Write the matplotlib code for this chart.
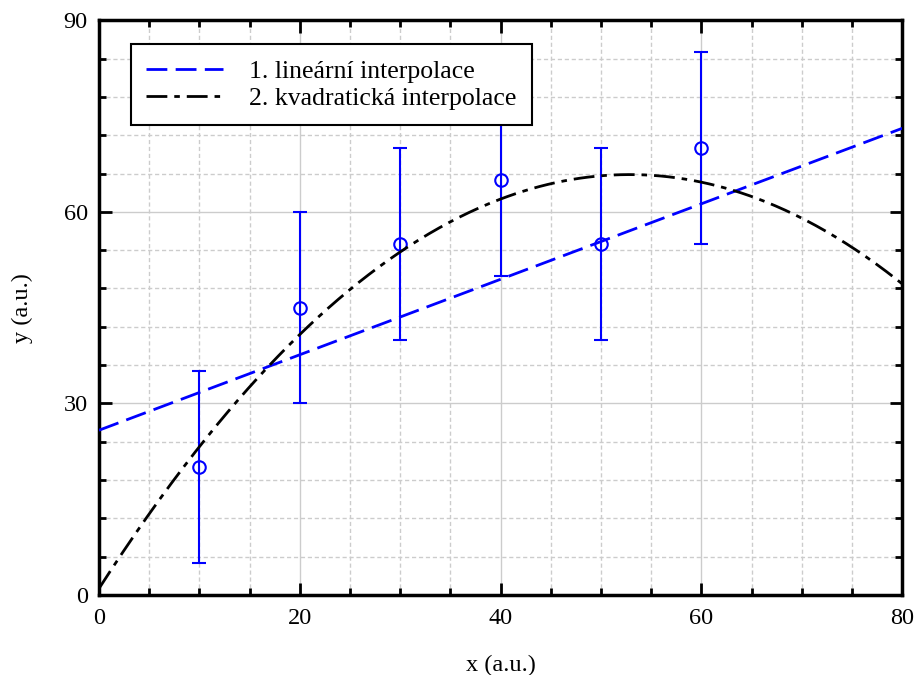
import numpy as np
import matplotlib
matplotlib.use("Agg")
import matplotlib.pyplot as plt
from matplotlib.ticker import MultipleLocator

# data
x_data = [10, 20, 30, 40, 50, 60]
y_data = [20, 45, 55, 65, 55, 70]
y_err = [15, 15, 15, 15, 15, 15]
# fitted curve coefficients (highest power first)
lin_coef = [0.591, 25.8]
quad_coef = [-0.023216, 2.4537, 1.0]
legend_labels = ["1. lineární interpolace", "2. kvadratická interpolace"]
x_ticks = [0, 20, 40, 60, 80]
y_ticks = [0, 30, 60, 90]

plt.rcParams['font.family'] = ['Liberation Serif', 'DejaVu Serif']

fig = plt.figure(figsize=(9.16, 6.75), dpi=100)
ax = fig.add_axes([0.108, 0.1185, 0.877, 0.8515])

xx = np.linspace(0, 80, 400)
ax.plot(xx, np.polyval(lin_coef, xx), color='blue', lw=2,
        dashes=(7.5, 3), label=legend_labels[0], zorder=3)
ax.plot(xx, np.polyval(quad_coef, xx), color='black', lw=2,
        dashes=(7.5, 2.5, 2, 2.5), label=legend_labels[1], zorder=3)
ax.errorbar(x_data, y_data, yerr=y_err, fmt='o', mfc='none', mec='blue',
            ms=9, mew=1.5, ecolor='blue', elinewidth=1.5, capsize=5,
            capthick=1.5, zorder=2)

ax.set_xlim(0, 80)
ax.set_ylim(0, 90)
ax.set_xticks(x_ticks)
ax.set_yticks(y_ticks)
ax.xaxis.set_minor_locator(MultipleLocator(5))
ax.yaxis.set_minor_locator(MultipleLocator(6))

ax.grid(which='major', color='#cccccc', lw=1, ls='-', zorder=0)
ax.grid(which='minor', color='#cccccc', lw=1, ls=(0, (3, 2)), zorder=0)
ax.set_axisbelow(True)

ax.tick_params(which='both', direction='in', top=True, right=True,
               width=2, labelsize=17.5)
ax.tick_params(axis='x', pad=9)
ax.tick_params(axis='y', pad=8)
ax.tick_params(which='major', length=9)
ax.tick_params(which='minor', length=5)
for s in ax.spines.values():
    s.set_linewidth(2.5)

ax.set_xlabel("x (a.u.)", fontsize=17.5, labelpad=19)
ax.set_ylabel("y (a.u.)", fontsize=17.5, labelpad=22)

leg = ax.legend(loc='upper left', bbox_to_anchor=(0.0398, 0.958),
                fontsize=18.5, frameon=True, fancybox=False,
                edgecolor='black', framealpha=1, borderpad=0.6,
                handlelength=3.0, handletextpad=1.0, labelspacing=0.15,
                borderaxespad=0)
leg.get_frame().set_linewidth(1.5)
leg.set_zorder(5)

fig.savefig("out.png", dpi=100)
